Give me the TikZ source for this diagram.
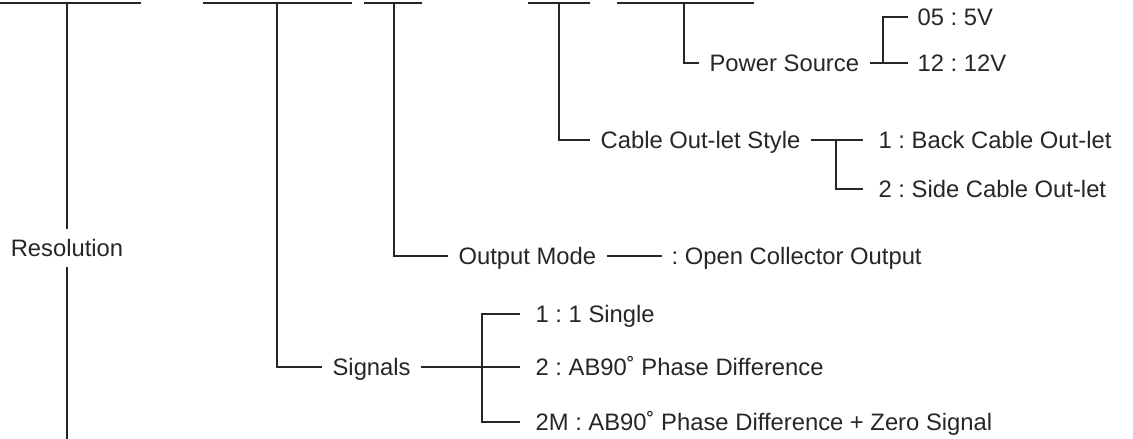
\documentclass[tikz,border=0pt]{standalone}
\usepackage{fontspec}
\setmainfont{Liberation Sans}
\frenchspacing
\begin{document}
\begin{tikzpicture}[x=1pt,y=-1pt,line width=1.2pt,draw=black!85,
	lbl/.style={anchor=west,inner xsep=10pt,inner ysep=0pt,text height=17pt,text depth=0pt,text=black!85},
	val/.style={lbl,inner xsep=15pt},
	bar/.style={line width=1.8pt}]
	\fontsize{23.8}{28}\selectfont
	\useasboundingbox (0,0) rectangle (1133,439);
	% code fields
	\draw[bar] (0,3)--(141,3);
	\draw[bar] (203,3)--(352,3);
	\draw[bar] (364,3)--(422,3);
	\draw[bar] (528,3)--(590,3);
	\draw[bar] (617,3)--(754,3);
	\coordinate (t1) at (67,3);
	\coordinate (t2) at (277,3);
	\coordinate (t3) at (394,3);
	\coordinate (t4) at (559,3);
	\coordinate (t5) at (684,3);
	\coordinate (b1) at (67,439);
	% labels
	\node[lbl,anchor=center,inner xsep=0pt,inner ysep=10pt] (res) at (67,248) {Resolution};
	\node[lbl] (sig) at (322,367) {Signals};
	\node[lbl] (out) at (448,256) {Output Mode};
	\node[lbl] (cab) at (590,140) {Cable Out-let Style};
	\node[lbl] (pow) at (699,63) {Power Source};
	% values
	\node[val] (s1) at (520,314) {1 : 1 Single};
	\node[val] (s2) at (520,367) {2 : AB90˚ Phase Difference};
	\node[val] (s3) at (520,422) {2M : AB90˚ Phase Difference + Zero Signal};
	\node[lbl,inner xsep=9pt] (oc) at (662,256) {: Open Collector Output};
	\node[val] (c1) at (863,140) {1 : Back Cable Out-let};
	\node[val] (c2) at (863,189) {2 : Side Cable Out-let};
	\node[lbl,inner xsep=9pt] (p1) at (908,17) {05 : 5V};
	\node[lbl,inner xsep=9pt] (p2) at (908,63) {12 : 12V};
	% connectors
	\draw (t1)--(res.north);
	\draw (res.south)--(b1);
	\draw (t2)|-(sig.west);
	\draw (t3)|-(out.west);
	\draw (t4)|-(cab.west);
	\draw (t5)|-(pow.west);
	\coordinate (sb) at (482,367);
	\coordinate (cb) at (836,140);
	\coordinate (pb) at (883,63);
	\draw (sig.east)--(s2.west);
	\draw (s1.west)-|(sb)|-(s3.west);
	\draw (out.east)--(oc.west);
	\draw (cab.east)--(c1.west);
	\draw (cb)|-(c2.west);
	\draw (pow.east)--(p2.west);
	\draw (p1.west)-|(pb);
\end{tikzpicture}
\end{document}
